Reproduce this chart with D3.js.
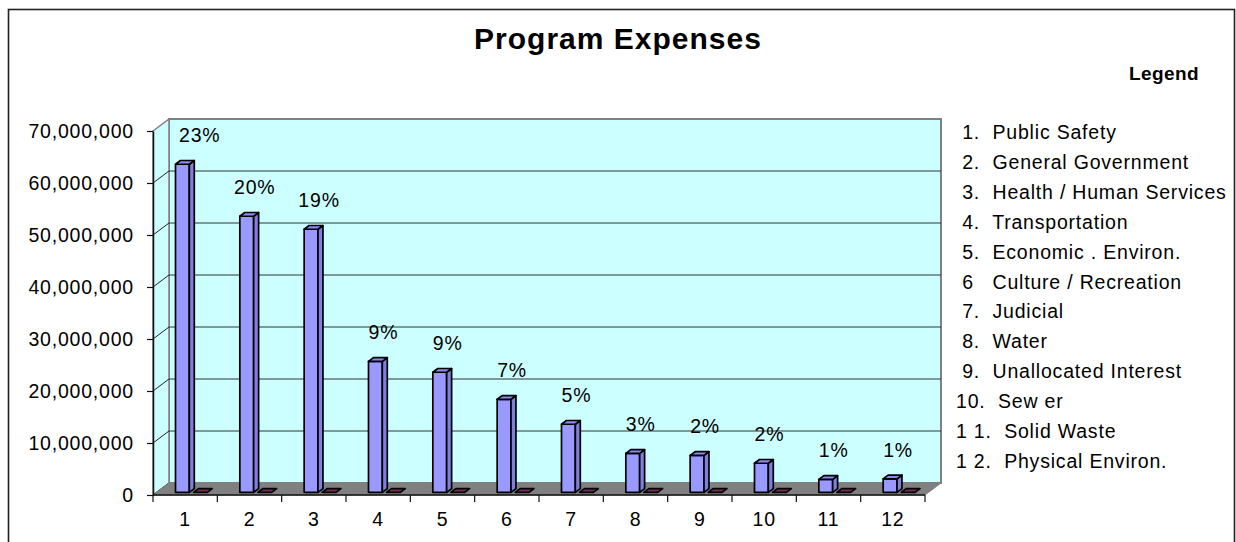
<!DOCTYPE html>
<html>
<head>
<meta charset="utf-8">
<script src="https://cdn.jsdelivr.net/npm/d3@7"></script>
<style>
  html, body { margin: 0; padding: 0; background: #fff; }
  svg { display: block; }
  text { font-family: "Liberation Sans", Arial, sans-serif; fill: #000; }
  .lbl { font-size: 19.5px; letter-spacing: 0.8px; }
</style>
</head>
<body>
<svg id="chart" width="1236" height="542"></svg>
<script>
// ---- data ----
const categories = ["1","2","3","4","5","6","7","8","9","10","11","12"];
const expenses = [63100000, 53100000, 50600000, 25200000, 23100000, 17900000,
                  13100000, 7500000, 7100000, 5600000, 2500000, 2600000];
const secondSeries = [0,0,0,0,0,0,0,0,0,0,0,0];
const percentLabels = ["23%","20%","19%","9%","9%","7%","5%","3%","2%","2%","1%","1%"];
const yTicks = [0, 10000000, 20000000, 30000000, 40000000, 50000000, 60000000, 70000000];
const legendItems = [
  " 1.  Public Safety",
  " 2.  General Government",
  " 3.  Health / Human Services",
  " 4.  Transportation",
  " 5.  Economic . Environ.",
  " 6   Culture / Recreation",
  " 7.  Judicial",
  " 8.  Water",
  " 9.  Unallocated Interest",
  "10.  Sew er",
  "1 1.  Solid Waste",
  "1 2.  Physical Environ."
];
const titleText = "Program Expenses";
const legendTitle = "Legend";

// ---- layout ----
const svg = d3.select("#chart");
const X0 = 153, X1 = 925, YB = 495, YT = 131;
const DX = 16, DY = -12;           // full depth offset
const z0 = 0.22, z1 = 0.53;        // bar depth range (fraction)

const x = d3.scaleBand().domain(categories).range([X0, X1]).padding(0);
const y = d3.scaleLinear().domain([0, 70000000]).range([YB, YT]);
const bw = x.bandwidth();
const P = (px, py, z) => [px + DX * z, py + DY * z];
const poly = pts => "M" + pts.map(p => p[0].toFixed(2) + "," + p[1].toFixed(2)).join("L") + "Z";

// outer border
svg.append("rect").attr("x", 8.5).attr("y", 9.5).attr("width", 1226).attr("height", 600)
  .attr("fill", "#fff").attr("stroke", "#222").attr("stroke-width", 1.6);

// title
svg.append("text").attr("x", 618).attr("y", 49).attr("text-anchor", "middle")
  .style("font-size", "30px").style("font-weight", "bold").style("letter-spacing", "1px")
  .text(titleText);

// walls
const g = svg.append("g");
g.append("path").attr("d", poly([P(X0, YT, 1), P(X1, YT, 1), P(X1, YB, 1), P(X0, YB, 1)]))
  .attr("fill", "#CCFFFF").attr("stroke", "#808080").attr("stroke-width", 2);
g.append("path").attr("d", poly([P(X0, YT, 0), P(X0, YT, 1), P(X0, YB, 1), P(X0, YB, 0)]))
  .attr("fill", "#CCFFFF").attr("stroke", "#808080").attr("stroke-width", 1.5);
yTicks.forEach(t => {
  const a = P(X0, y(t), 0), b = P(X0, y(t), 1), c = P(X1, y(t), 1);
  if (t > 0 && t < 70000000) {
    g.append("path").attr("d", `M${b[0]},${b[1]}L${c[0]},${c[1]}`)
      .attr("stroke", "#333").attr("stroke-width", 1).attr("fill", "none");
  }
  if (t < 70000000) {
    g.append("path").attr("d", `M${a[0]},${a[1]}L${b[0]},${b[1]}`)
      .attr("stroke", "#222").attr("stroke-width", 1).attr("fill", "none");
  }
});
g.append("path").attr("d", poly([P(X0, YB, 0), P(X1, YB, 0), P(X1, YB, 1), P(X0, YB, 1)]))
  .attr("fill", "#808080").attr("stroke", "#808080").attr("stroke-width", 1);
g.append("line").attr("x1", X0).attr("x2", X1).attr("y1", YB).attr("y2", YB)
  .attr("stroke", "#111").attr("stroke-width", 1.5);

// y axis
const yAxis = d3.axisLeft(y).tickValues(yTicks).tickFormat(d3.format(","))
  .tickSize(6).tickSizeOuter(0).tickPadding(13);
const ya = svg.append("g").attr("transform", `translate(${X0},0)`).call(yAxis);
ya.select(".domain").attr("stroke", "#111").attr("stroke-width", 1.5);
ya.selectAll(".tick line").attr("stroke", "#111").attr("stroke-width", 1.2);
ya.selectAll(".tick text").attr("class", "lbl").attr("font-family", null).attr("font-size", null);

// x axis (labels) + boundary ticks
const xAxis = d3.axisBottom(x).tickSize(0).tickPadding(17);
const xa = svg.append("g").attr("transform", `translate(0,${YB})`).call(xAxis);
xa.select(".domain").remove();
xa.selectAll(".tick text").attr("class", "lbl").attr("font-family", null).attr("font-size", null);
const bounds = categories.map(c => x(c)).concat([X1]);
svg.append("g").selectAll("line").data(bounds).join("line")
  .attr("x1", d => d).attr("x2", d => d).attr("y1", YB).attr("y2", YB + 7)
  .attr("stroke", "#111").attr("stroke-width", 1.2);

// bars
const barW = bw * 0.215;
const blueOff = bw * 0.295;
const maroonOff = bw * 0.575;
function drawBar(parent, px, v, fills) {
  const yt = y(v), yb = y(0);
  const front = [P(px, yb, z0), P(px + barW, yb, z0), P(px + barW, yt, z0), P(px, yt, z0)];
  const side = [P(px + barW, yb, z0), P(px + barW, yb, z1), P(px + barW, yt, z1), P(px + barW, yt, z0)];
  const top = [P(px, yt, z0), P(px + barW, yt, z0), P(px + barW, yt, z1), P(px, yt, z1)];
  const sty = sel => sel.attr("stroke", "#000").attr("stroke-width", 1.7).attr("stroke-linejoin", "round");
  if (v > 0) {
    sty(parent.append("path").attr("d", poly(front)).attr("fill", fills[0]));
    sty(parent.append("path").attr("d", poly(side)).attr("fill", fills[1]));
  }
  sty(parent.append("path").attr("d", poly(top)).attr("fill", fills[2]));
}
const bars = svg.append("g");
categories.forEach((c, i) => {
  drawBar(bars, x(c) + blueOff, expenses[i], ["#9999FF", "#7F7FDD", "#8A8AEE"]);
  drawBar(bars, x(c) + maroonOff, secondSeries[i], ["#993366", "#7A2850", "#7A2A52"]);
});

// percent labels (kept inside the back wall with a small margin)
const minLeft = X0 + DX + 10;
svg.append("g").selectAll("text").data(categories).join("text")
  .attr("class", "lbl").attr("text-anchor", "middle")
  .attr("x", (c, i) => P(x(c) + blueOff + barW / 2, 0, z0)[0] + 8)
  .attr("y", (c, i) => P(0, y(expenses[i]), z0)[1] - 22)
  .text((c, i) => percentLabels[i])
  .each(function () {
    const w = this.getComputedTextLength();
    const cx = +this.getAttribute("x");
    if (cx - w / 2 < minLeft) this.setAttribute("x", minLeft + w / 2);
  });

// legend
svg.append("text").attr("x", 1164).attr("y", 80).attr("text-anchor", "middle")
  .style("font-size", "19px").style("font-weight", "bold").style("letter-spacing", "0.4px")
  .text(legendTitle);
svg.append("g").selectAll("text").data(legendItems).join("text")
  .attr("class", "lbl").attr("xml:space", "preserve").style("white-space", "pre")
  .attr("x", 956).attr("y", (d, i) => 139 + i * 29.9)
  .text(d => d);
</script>
</body>
</html>
